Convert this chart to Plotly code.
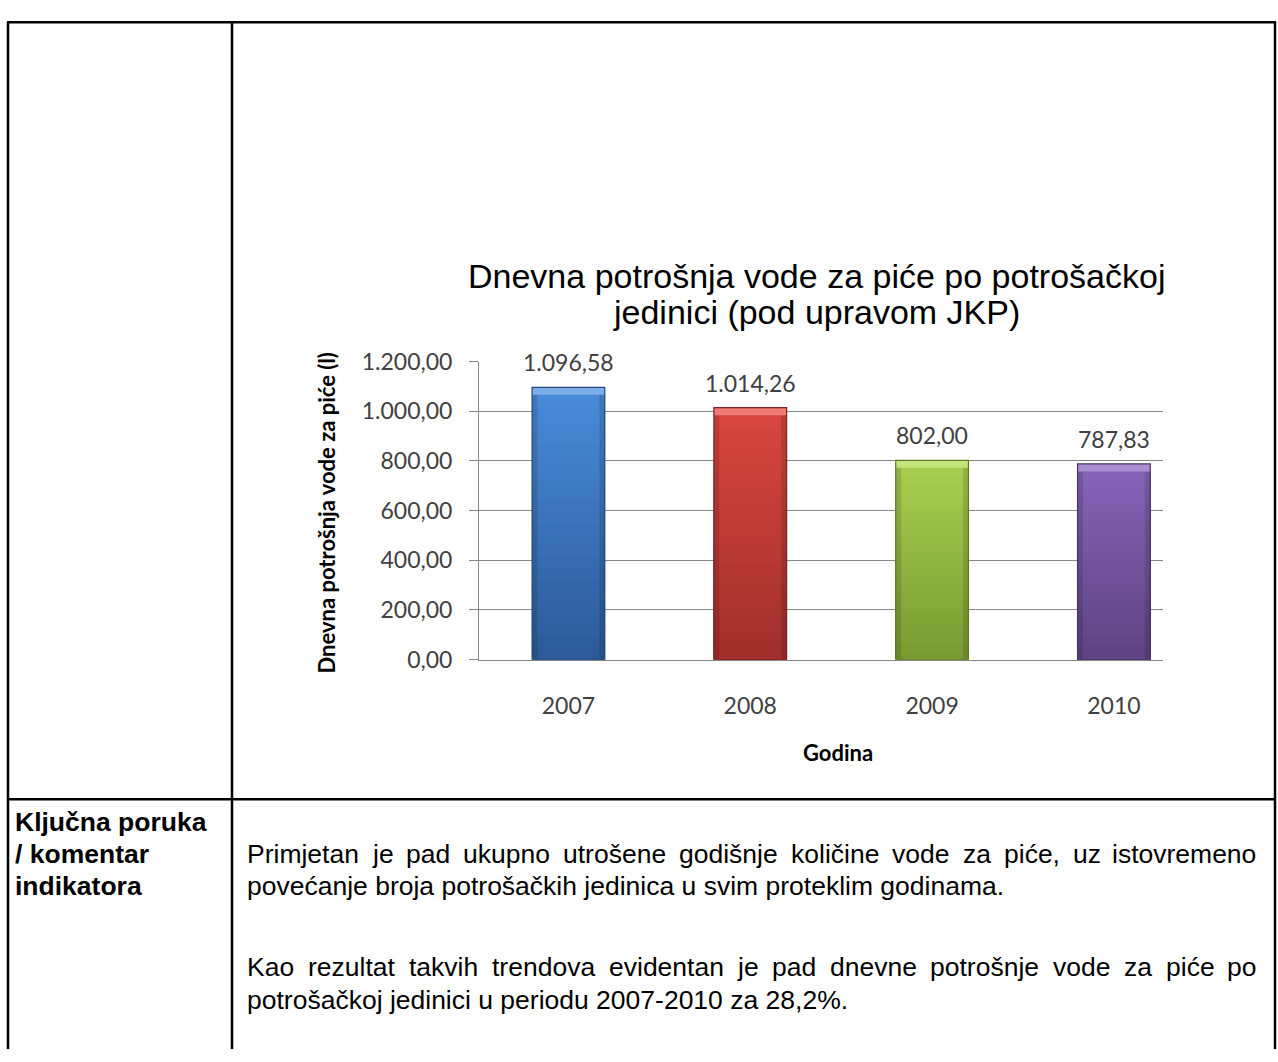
import plotly.graph_objects as go

# ---------------- data ----------------
years = ["2007", "2008", "2009", "2010"]
values = [1096.58, 1014.26, 802.00, 787.83]
y_ticks = [0, 200, 400, 600, 800, 1000, 1200]

chart_title_lines = ["Dnevna potrošnja vode za piće po potrošačkoj", "jedinici (pod upravom JKP)"]
y_title = "Dnevna potrošnja vode za piće (l)"
x_title = "Godina"

label_lines = ["Ključna poruka", "/ komentar", "indikatora"]
para1 = ["Primjetan je pad ukupno utrošene godišnje količine vode za piće, uz istovremeno",
         "povećanje broja potrošačkih jedinica u svim proteklim godinama."]
para2 = ["Kao rezultat takvih trendova evidentan je pad dnevne potrošnje vode za piće po",
         "potrošačkoj jedinici u periodu 2007-2010 za 28,2%."]

# bar colours: (top, bottom, bevel)
bar_colors = [("#4A8BDB", "#2C5A98", "#7DAEEA"),
              ("#DA4640", "#A02F2C", "#EE7A75"),
              ("#A9D051", "#789A31", "#C4E47C"),
              ("#8765B9", "#5D4382", "#A98ED4")]
edge_colors = ["#24497A", "#7E2422", "#5D7826", "#47325F"]

# ---------------- helpers ----------------
W, H = 1278, 1062


def px(x):                   # page pixel -> paper x
    return x / W


def py(y):                   # page pixel -> paper y
    return 1 - y / H


def hex2rgb(h):
    h = h.lstrip("#")
    return [int(h[i:i + 2], 16) for i in (0, 2, 4)]


def mix(c1, c2, t):
    a, b = hex2rgb(c1), hex2rgb(c2)
    return "rgb(%d,%d,%d)" % tuple(round(a[i] + (b[i] - a[i]) * t) for i in range(3))


def fmt(v):                  # 1096.58 -> "1.096,58"
    return f"{v:,.2f}".replace(",", "X").replace(".", ",").replace("X", ".")


# Arial / Helvetica advance widths (1/1000 em)
AW = {' ': 278, ',': 278, '.': 278, '-': 333, '%': 889, 'P': 667, 'K': 667,
      'a': 556, 'b': 556, 'c': 500, 'd': 556, 'e': 556, 'f': 278, 'g': 556, 'h': 556,
      'i': 222, 'j': 222, 'k': 500, 'l': 222, 'm': 833, 'n': 556, 'o': 556, 'p': 556,
      'q': 556, 'r': 333, 's': 500, 't': 278, 'u': 556, 'v': 500, 'w': 722, 'x': 500,
      'y': 500, 'z': 500}
for d in "0123456789":
    AW[d] = 556
ACC = {'š': 's', 'č': 'c', 'ć': 'c', 'ž': 'z', 'đ': 'd'}

BODY_FONT = "Liberation Sans, Arial, sans-serif"
BODY_SIZE = 26.5
CAL = "Lato, Carlito, Calibri, sans-serif"


def text_w(s, size):
    return sum(AW.get(ACC.get(ch, ch), 556) for ch in s) * size / 1000


# ---------------- figure ----------------
fig = go.Figure()
BW = 0.40

# vertical gradient: nested bars, tallest (lightest) first
N = 24
for k in range(N - 1, -1, -1):
    fig.add_trace(go.Bar(
        x=years, y=[v * (k + 1) / N for v in values], width=BW,
        marker=dict(color=[mix(c[1], c[0], (k + 0.5) / N) for c in bar_colors], line=dict(width=0)),
        hoverinfo="skip", showlegend=False))

# subtle darker side edges
for off in (-BW / 2, BW / 2 - 0.03):
    fig.add_trace(go.Bar(
        x=years, y=values, width=0.03, offset=off,
        marker=dict(color="rgba(0,0,0,0.13)", line=dict(width=0)),
        hoverinfo="skip", showlegend=False))

# bevel on top
bevel = 30
fig.add_trace(go.Bar(
    x=years, y=[bevel] * len(values), base=[v - bevel for v in values], width=BW,
    marker=dict(color=[c[2] for c in bar_colors], line=dict(width=0)),
    hoverinfo="skip", showlegend=False))
# outline
fig.add_trace(go.Bar(
    x=years, y=values, width=BW,
    marker=dict(color="rgba(0,0,0,0)", line=dict(width=1.2, color=edge_colors)),
    hoverinfo="skip", showlegend=False))

fig.update_layout(
    width=W, height=H, margin=dict(l=0, r=0, t=0, b=0),
    paper_bgcolor="white", plot_bgcolor="white",
    barmode="overlay", separators=",.", showlegend=False,
    xaxis=dict(domain=[px(479), px(1163)], type="category", range=[-0.492, 3.27],
               showline=True, linecolor="#868686", linewidth=1, ticks="",
               showgrid=False, zeroline=False, ticklabelstandoff=26,
               tickfont=dict(family=CAL, size=23, color="#404040")),
    yaxis=dict(domain=[py(662), py(356)], range=[0, 1200], tickvals=y_ticks,
               tickformat=",.2f", showline=True, linecolor="#868686", linewidth=1,
               ticks="outside", ticklen=9, tickcolor="#868686", ticklabelstandoff=12,
               showgrid=True, gridcolor="#868686", gridwidth=1, zeroline=False,
               tickfont=dict(family=CAL, size=23, color="#404040")),
)

ann = []
# data labels above the bars (x given as category index)
for i, v in enumerate(values):
    ann.append(dict(text=fmt(v), x=i, y=v, xref="x", yref="y", showarrow=False,
                    xanchor="center", yanchor="middle", yshift=25,
                    font=dict(family=CAL, size=23, color="#404040")))

for i, line in enumerate(chart_title_lines):
    ann.append(dict(text=line, x=px(816), y=py(268 + 37 * i), xref="paper", yref="paper",
                    showarrow=False, xanchor="center", yanchor="middle", borderpad=0,
                    font=dict(family="Liberation Sans, Arial, sans-serif", size=34, color="#000000")))
ann.append(dict(text="<b>%s</b>" % y_title, x=px(327), y=py(511), xref="paper", yref="paper",
                showarrow=False, textangle=-90, xanchor="center", yanchor="middle",
                font=dict(family=CAL, size=22, color="#000000")))
ann.append(dict(text="<b>%s</b>" % x_title, x=px(838), y=py(757), xref="paper", yref="paper",
                showarrow=False, xanchor="center", yanchor="middle",
                font=dict(family=CAL, size=22, color="#000000")))

# left column label
for i, line in enumerate(label_lines):
    ann.append(dict(text="<b>%s</b>" % line, x=px(14), y=py(829 + 33 * i), xref="paper", yref="paper",
                    showarrow=False, xanchor="left", yanchor="middle", borderpad=0,
                    font=dict(family=BODY_FONT, size=BODY_SIZE, color="#000000")))

# body text (justified first lines)
L, R = 246, 1257


def add_line(line, yc, justify):
    words = line.split(" ")
    font = dict(family=BODY_FONT, size=BODY_SIZE, color="#000000")
    if not justify:
        ann.append(dict(text=line, x=px(L), y=py(yc), xref="paper", yref="paper", showarrow=False,
                        xanchor="left", yanchor="middle", font=font, borderpad=0))
        return
    widths = [text_w(w, BODY_SIZE) for w in words]
    gap = (R - L - sum(widths)) / (len(words) - 1)
    x = L
    for j, w in enumerate(words):
        last = j == len(words) - 1
        ann.append(dict(text=w, x=px(R if last else x), y=py(yc), xref="paper", yref="paper",
                        showarrow=False, xanchor="right" if last else "left", yanchor="middle",
                        font=font, borderpad=0))
        x += widths[j] + gap


add_line(para1[0], 862, True)
add_line(para1[1], 895, False)
add_line(para2[0], 978, True)
add_line(para2[1], 1012, False)

fig.update_layout(annotations=ann)

# table borders
lw = 2.5
shapes = [
    dict(type="line", x0=px(7), x1=px(1276), y0=py(7.5), y1=py(7.5)),
    dict(type="line", x0=px(8), x1=px(8), y0=py(7), y1=py(1062)),
    dict(type="line", x0=px(232), x1=px(232), y0=py(7), y1=py(1062)),
    dict(type="line", x0=px(1275), x1=px(1275), y0=py(7), y1=py(1062)),
    dict(type="line", x0=px(7), x1=px(1276), y0=py(805.5), y1=py(805.5)),
]
for s in shapes:
    s.update(xref="paper", yref="paper", line=dict(color="black", width=lw))
fig.update_layout(shapes=shapes)

# remove the default page margin so the figure fills the window exactly
fig.write_html("out.html", config={"displayModeBar": False},
               post_script="document.body.style.margin='0';document.body.style.overflow='hidden';")
